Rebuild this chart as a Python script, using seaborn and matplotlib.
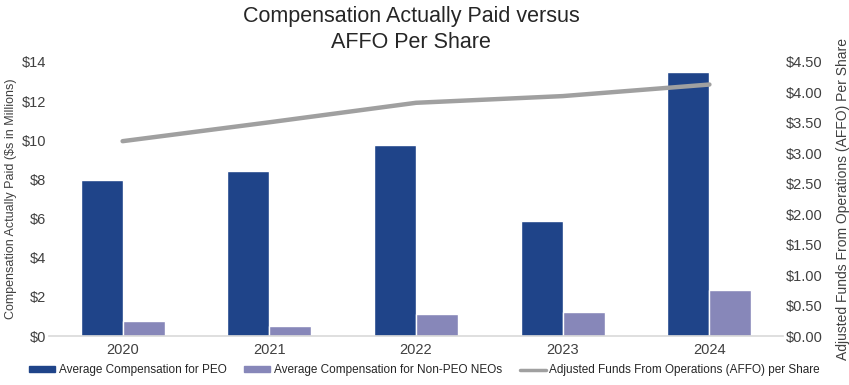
import numpy as np
import pandas as pd
import seaborn as sns
import matplotlib.pyplot as plt
from matplotlib.ticker import FuncFormatter
from matplotlib.patches import Patch
from matplotlib.lines import Line2D

sns.set_theme(style="white")
plt.rcParams['font.family'] = ['Liberation Sans', 'DejaVu Sans']

# values
years = ["2020", "2021", "2022", "2023", "2024"]
peo = [7.96, 8.45, 9.74, 5.88, 13.5]          # $ millions
non_peo = [0.75, 0.50, 1.11, 1.23, 2.36]      # $ millions
affo = [3.20, 3.51, 3.83, 3.94, 4.13]         # $ per share

labels = ["Average Compensation for PEO",
          "Average Compensation for Non-PEO NEOs",
          "Adjusted Funds From Operations (AFFO) per Share"]
colors = ["#1f4489", "#8787b9", "#a0a0a0"]

df = pd.DataFrame({
    "year": years * 2,
    "value": peo + non_peo,
    "series": [labels[0]] * len(years) + [labels[1]] * len(years),
})

fig = plt.figure(figsize=(8.49, 3.85), dpi=100)
ax = fig.add_axes([0.058, 0.127, 0.864, 0.712])

sns.barplot(data=df, x="year", y="value", hue="series",
            palette=colors[:2], width=0.572, saturation=1,
            legend=False, ax=ax)
ax.set_xlim(-0.5, len(years) - 0.5)
ax.set_ylim(0, 14)
ax.set_yticks(np.arange(0, 15, 2))
ax.yaxis.set_major_formatter(FuncFormatter(lambda v, p: f"${v:.0f}"))
ax.set_xlabel("")
ax.set_ylabel("Compensation Actually Paid ($s in Millions)", fontsize=9,
              color="#404040", ha="center", va="center")
ax.yaxis.set_label_coords(-0.052, 0.5)

ax2 = ax.twinx()
sns.lineplot(x=np.arange(len(years)), y=affo, color=colors[2], linewidth=3.2,
             ax=ax2)
ax2.set_ylim(0, 4.5)
ax2.set_yticks(np.arange(0, 4.51, 0.5))
ax2.yaxis.set_major_formatter(FuncFormatter(lambda v, p: f"${v:.2f}"))
ax2.set_ylabel("Adjusted Funds From Operations (AFFO) Per Share", fontsize=10,
               color="#404040", ha="center", va="center")
ax2.yaxis.set_label_coords(1.082, 0.5)

for a in (ax, ax2):
    for s in a.spines.values():
        s.set_visible(False)
    a.tick_params(length=0, labelsize=10.5, labelcolor="#404040", pad=2)
ax.spines["bottom"].set_visible(True)
ax.spines["bottom"].set_color("#d9d9d9")
ax.spines["bottom"].set_linewidth(1.2)
ax.tick_params(axis="x", pad=5)

fig.suptitle("Compensation Actually Paid versus\nAFFO Per Share", fontsize=15.5,
             color="#262626", x=0.484, y=0.985, linespacing=1.3)

handles = [Patch(color=colors[0]), Patch(color=colors[1]),
           Line2D([0], [0], color=colors[2], linewidth=2.5)]
fig.legend(handles, labels, loc="lower center", bbox_to_anchor=(0.5, -0.005),
           ncol=3, frameon=False, fontsize=8.5, handlelength=2.2,
           handleheight=0.45, handletextpad=0.3, columnspacing=1.5,
           labelcolor="#262626")

fig.savefig("out.png", dpi=100)
